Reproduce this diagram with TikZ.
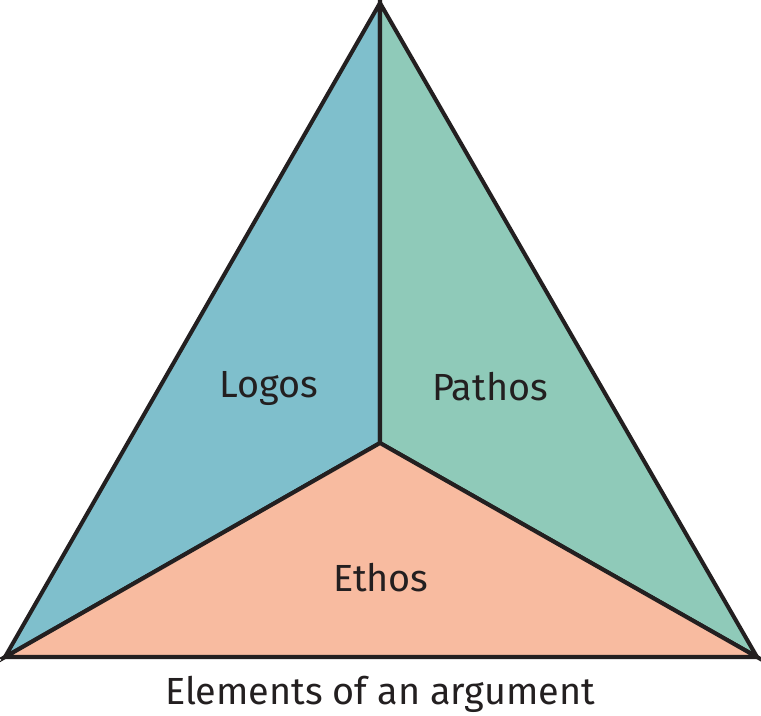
\documentclass[tikz,border=0pt]{standalone}
\usepackage{fontspec}
\setmainfont{Fira Sans}
\definecolor{logosblue}{HTML}{7FBFCC}
\definecolor{pathosgreen}{HTML}{8FCAB9}
\definecolor{ethossalmon}{HTML}{F8BBA0}
\definecolor{inkdark}{HTML}{231F20}

\begin{document}
\begin{tikzpicture}[
        x=0.02cm, y=-0.02cm,
        part/.style={
            draw=inkdark,
            line width=2.3pt,
            line join=miter
        },
        label/.style={
            text=inkdark,
            inner sep=0pt,
            font=\fontsize{21.5}{26}\selectfont
        }
    ]
    \useasboundingbox (0,0) rectangle (761,716);
    \coordinate (top) at (380,3);
    \coordinate (left) at (5,657);
    \coordinate (right) at (757,657);
    \coordinate (mid) at (380,443);
    \filldraw[part, fill=logosblue] (top) -- (mid) -- (left) -- cycle;
    \filldraw[part, fill=pathosgreen] (top) -- (right) -- (mid) -- cycle;
    \filldraw[part, fill=ethossalmon] (left) -- (mid) -- (right) -- cycle;
    \node[label] (logos) at (269,389) {Logos};
    \node[label] (pathos) at (490,387) {Pathos};
    \node[label] (ethos) at (381,578) {Ethos};
    \node[label] (caption) at (380,694) {Elements of an argument};
\end{tikzpicture}
\end{document}
